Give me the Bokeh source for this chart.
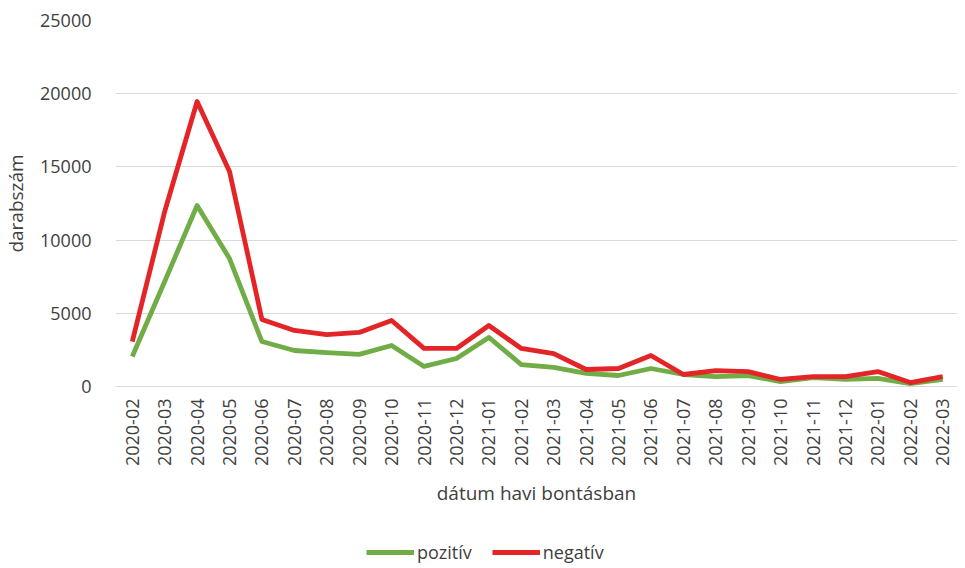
from bokeh.plotting import figure
from bokeh.layouts import column
from bokeh.models import Range1d, Legend, LegendItem, SingleIntervalTicker, NumeralTickFormatter, FixedTicker
from bokeh.embed import file_html
from bokeh.resources import INLINE
import math

months = ["2020-02", "2020-03", "2020-04", "2020-05", "2020-06", "2020-07", "2020-08",
          "2020-09", "2020-10", "2020-11", "2020-12", "2021-01", "2021-02", "2021-03",
          "2021-04", "2021-05", "2021-06", "2021-07", "2021-08", "2021-09", "2021-10",
          "2021-11", "2021-12", "2022-01", "2022-02", "2022-03"]
pozitiv = [2050, 7170, 12360, 8740, 3070, 2460, 2320, 2190, 2800, 1370, 1910, 3350, 1500,
           1300, 890, 750, 1230, 820, 680, 750, 340, 610, 480, 550, 200, 480]
negativ = [3070, 11950, 19470, 14690, 4580, 3830, 3550, 3690, 4510, 2600, 2600, 4170, 2600,
           2250, 1160, 1230, 2120, 820, 1090, 1020, 480, 680, 680, 1020, 270, 680]

FONT = "Open Sans"
TXT = "#404040"
GREEN = "#70AD47"
RED = "#E42527"

idx = list(range(len(months)))

p = figure(width=957, height=516, x_range=Range1d(-0.517, 25.456),
           y_range=Range1d(0, 25000), output_backend="svg", toolbar_location=None,
           min_border_left=103, min_border_top=20, min_border_right=0,
           min_border_bottom=130)
p.outline_line_color = None
p.background_fill_color = "white"

l1 = p.line(idx, pozitiv, line_color=GREEN, line_width=4.8, line_join="round")
l2 = p.line(idx, negativ, line_color=RED, line_width=4.8, line_join="round")

p.yaxis.ticker = SingleIntervalTicker(interval=5000)
p.yaxis.formatter = NumeralTickFormatter(format="0")
p.yaxis.axis_line_color = None
p.yaxis.major_tick_line_color = None
p.yaxis.minor_tick_line_color = None
p.yaxis.major_label_text_font = FONT
p.yaxis.major_label_text_font_size = "18px"
p.yaxis.major_label_text_color = TXT
p.yaxis.major_label_standoff = 18
p.yaxis.axis_label = "darabszám"
p.yaxis.axis_label_text_font = FONT
p.yaxis.axis_label_text_font_size = "19px"
p.yaxis.axis_label_text_font_style = "normal"
p.yaxis.axis_label_text_color = TXT
p.yaxis.axis_label_standoff = 8

p.xaxis.ticker = FixedTicker(ticks=idx)
p.xaxis.major_label_overrides = {i: m for i, m in zip(idx, months)}
p.xaxis.axis_line_color = "#D9D9D9"
p.xaxis.major_tick_line_color = None
p.xaxis.minor_tick_line_color = None
p.xaxis.major_label_orientation = math.pi / 2
p.xaxis.major_label_text_font = FONT
p.xaxis.major_label_text_font_size = "18px"
p.xaxis.major_label_text_color = TXT
p.xaxis.major_label_standoff = 6
p.xaxis.axis_label = "dátum havi bontásban"
p.xaxis.axis_label_text_font = FONT
p.xaxis.axis_label_text_font_size = "19px"
p.xaxis.axis_label_text_font_style = "normal"
p.xaxis.axis_label_text_color = TXT
p.xaxis.axis_label_standoff = 11

p.xgrid.grid_line_color = None
p.ygrid.grid_line_color = "#D9D9D9"
p.ygrid.grid_line_width = 1

# legend strip below the chart (same series, drawn out of view, used only as legend keys)
pl = figure(width=957, height=48, x_range=Range1d(-0.5, 25.5), y_range=Range1d(100000, 200000),
            x_axis_type=None, y_axis_type=None, output_backend="svg",
            toolbar_location=None, min_border=0)
pl.outline_line_color = None
pl.grid.visible = False
g1 = pl.line(idx, pozitiv, line_color=GREEN, line_width=4.8)
g2 = pl.line(idx, negativ, line_color=RED, line_width=4.8)

legend = Legend(items=[LegendItem(label="pozitív", renderers=[g1]),
                       LegendItem(label="negatív", renderers=[g2])],
                orientation="horizontal", location=(251, 0),
                label_text_font=FONT, label_text_font_size="18px", label_text_color=TXT,
                glyph_width=48, label_standoff=3, spacing=20, border_line_color=None,
                background_fill_alpha=0, margin=0, padding=0)
pl.add_layout(legend, "center")

layout = column(p, pl, spacing=0)
open("out.html", "w").write(file_html(layout, INLINE))
